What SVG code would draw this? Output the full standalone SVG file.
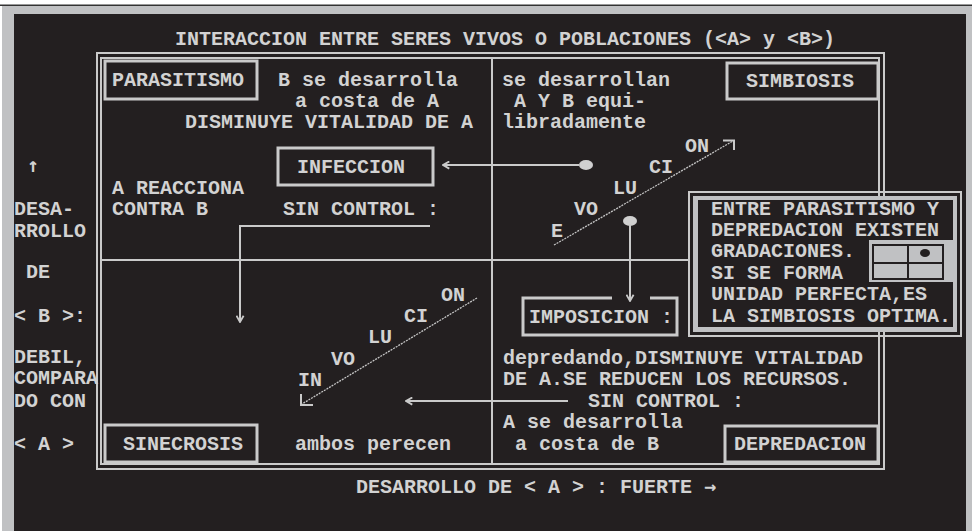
<svg xmlns="http://www.w3.org/2000/svg" width="972" height="531" viewBox="0 0 972 531">
<defs>
<style>
.t{font-family:"Liberation Mono","DejaVu Sans Mono",monospace;font-weight:bold;font-size:20px;fill:#d2d2d2;}
.ar{font-family:"DejaVu Sans Mono","Liberation Mono",monospace;font-weight:bold;font-size:20px;fill:#d2d2d2;}
.ln{stroke:#cacaca;stroke-width:2;fill:none;}
.bx{stroke:#cacaca;stroke-width:3;fill:#231f20;}
.dg{stroke:#c4c4c4;stroke-width:1.3;stroke-dasharray:2 1;fill:none;}
.dot{fill:#d0d0d0;}
</style>
<marker id="ah" viewBox="0 0 10 10" refX="9" refY="5" markerWidth="9" markerHeight="9" markerUnits="userSpaceOnUse" orient="auto">
<path d="M2,1 L9,5 L2,9" fill="none" stroke="#cacaca" stroke-width="2"/>
</marker>
</defs>
<rect x="0" y="0" width="972" height="531" fill="#ffffff"/>
<rect x="2" y="6" width="970" height="525" fill="#c0c1c3"/>
<rect x="0" y="4.5" width="972" height="1.5" fill="#333333"/>
<rect x="14" y="14" width="952" height="517" fill="#231f20"/>

<g id="frame">
<rect x="97" y="53" width="787" height="416" class="ln"/>
<rect x="101" y="58" width="778" height="406" class="ln"/>
<line x1="492" y1="58" x2="492" y2="464" class="ln"/>
<line x1="101" y1="260" x2="689" y2="260" class="ln"/>
</g>

<text class="t" x="175" y="45">INTERACCION ENTRE SERES VIVOS O POBLACIONES (&lt;A&gt; y &lt;B&gt;)</text>

<g id="axis-left">
<text class="ar" x="27" y="172">↑</text>
<text class="t" x="14" y="215">DESA-</text>
<text class="t" x="14" y="237">RROLLO</text>
<text class="t" x="26" y="278">DE</text>
<text class="t" x="14" y="322">&lt; B &gt;:</text>
<text class="t" x="14" y="363">DEBIL,</text>
<text class="t" x="14" y="384">COMPARA</text>
<text class="t" x="14" y="407">DO CON</text>
<text class="t" x="14" y="450">&lt; A &gt;</text>
</g>
<g id="axis-bottom">
<text class="t" x="356" y="493">DESARROLLO DE &lt; A &gt; : FUERTE <tspan class="ar">→</tspan></text>
</g>

<g id="parasitismo">
<rect x="105" y="61" width="152" height="38" class="bx"/>
<text class="t" x="112" y="86">PARASITISMO</text>
<text class="t" x="278" y="86">B se desarrolla</text>
<text class="t" x="295" y="107">a costa de A</text>
<text class="t" x="185" y="128">DISMINUYE VITALIDAD DE A</text>
</g>

<g id="simbiosis">
<rect x="727" y="63" width="151" height="36" class="bx"/>
<text class="t" x="746" y="87">SIMBIOSIS</text>
<text class="t" x="502" y="86">se desarrollan</text>
<text class="t" x="514" y="107">A Y B equi-</text>
<text class="t" x="502" y="128">libradamente</text>
</g>

<g id="infeccion">
<rect x="278" y="148" width="155" height="37" class="bx"/>
<text class="t" x="297" y="173">INFECCION</text>
</g>

<g id="reacciona">
<text class="t" x="112" y="194">A REACCIONA</text>
<text class="t" x="112" y="215">CONTRA B</text>
<text class="t" x="283" y="215">SIN CONTROL :</text>
</g>

<g id="evolucion">
<text class="t" x="551" y="237">E</text>
<text class="t" x="574" y="215">VO</text>
<text class="t" x="613" y="194">LU</text>
<text class="t" x="649" y="173">CI</text>
<text class="t" x="685" y="152">ON</text>
</g>

<g id="involucion">
<text class="t" x="298" y="386">IN</text>
<text class="t" x="331" y="365">VO</text>
<text class="t" x="368" y="343">LU</text>
<text class="t" x="404" y="322">CI</text>
<text class="t" x="441" y="301">ON</text>
</g>

<g id="imposicion">
<path d="M612,298 H523 V335 H677 V298 H650" fill="none" stroke="#cacaca" stroke-width="3"/>
<text class="t" x="529" y="323">IMPOSICION :</text>
</g>

<g id="info">
<rect x="689" y="192" width="272" height="144" fill="none" stroke="#cacaca" stroke-width="2"/>
<rect x="693" y="196" width="264" height="136" fill="#c0c1c3"/>
<path d="M698,200 H953 V240 H869 V282 H953 V327 H698 Z" fill="#231f20"/>
<rect x="873" y="245" width="70" height="34" fill="#c0c1c3" stroke="#231f20" stroke-width="2"/>
<line x1="908" y1="245" x2="908" y2="279" stroke="#231f20" stroke-width="2"/>
<line x1="873" y1="263" x2="943" y2="263" stroke="#231f20" stroke-width="2"/>
<ellipse cx="925" cy="253" rx="5" ry="4" fill="#231f20"/>
<text class="t" x="711" y="215">ENTRE PARASITISMO Y</text>
<text class="t" x="711" y="236">DEPREDACION EXISTEN</text>
<text class="t" x="711" y="257">GRADACIONES.</text>
<text class="t" x="711" y="279">SI SE FORMA</text>
<text class="t" x="711" y="300">UNIDAD PERFECTA,ES</text>
<text class="t" x="711" y="322">LA SIMBIOSIS OPTIMA.</text>
</g>

<g id="depredacion">
<rect x="725" y="426" width="153" height="36" class="bx"/>
<text class="t" x="734" y="450">DEPREDACION</text>
<text class="t" x="503" y="364">depredando,DISMINUYE VITALIDAD</text>
<text class="t" x="503" y="385">DE A.SE REDUCEN LOS RECURSOS.</text>
<text class="t" x="588" y="407">SIN CONTROL :</text>
<text class="t" x="503" y="428">A se desarrolla</text>
<text class="t" x="515" y="450">a costa de B</text>
</g>

<g id="sinecrosis">
<rect x="105" y="425" width="152" height="37" class="bx"/>
<text class="t" x="123" y="450">SINECROSIS</text>
<text class="t" x="295" y="450">ambos perecen</text>
</g>

<g id="connectors">
<ellipse cx="586" cy="165" rx="7" ry="5" class="dot"/>
<line x1="579" y1="165" x2="443" y2="165" class="ln" marker-end="url(#ah)"/>
<ellipse cx="630" cy="221" rx="7" ry="5" class="dot"/>
<line x1="630" y1="224" x2="630" y2="301" class="ln" marker-end="url(#ah)"/>
<polyline points="430,226 240,226 240,322" class="ln" marker-end="url(#ah)"/>
<line x1="568" y1="401" x2="406" y2="401" class="ln" marker-end="url(#ah)"/>
<line x1="554" y1="245" x2="733" y2="141" class="dg"/>
<polyline points="723,140.5 734,140.5 734,150" class="ln"/>
<line x1="477" y1="298" x2="302" y2="404" class="dg"/>
<polyline points="301,394 301,405 313,405" class="ln"/>
</g>
</svg>
